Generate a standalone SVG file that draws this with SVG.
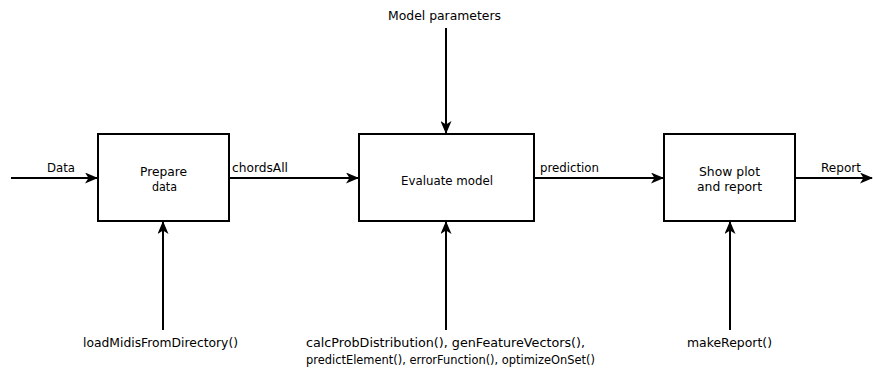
<svg xmlns="http://www.w3.org/2000/svg" width="873" height="372" viewBox="0 0 873 372">
  <style>
    .box { fill: #ffffff; stroke: #000000; stroke-width: 2; }
    .wire { fill: none; stroke: #000000; stroke-width: 2; }
    text { font-family: "DejaVu Sans", Verdana, sans-serif; font-size: 12px; fill: #000000; }
  </style>
  <defs>
    <marker id="arrow" viewBox="0 0 13 11" refX="12" refY="5.5" markerWidth="13" markerHeight="11" markerUnits="userSpaceOnUse" orient="auto">
      <path d="M0,0 L13,5.5 L0,11 L3.5,5.5 Z" fill="#000000"/>
    </marker>
  </defs>

  <rect width="873" height="372" fill="#ffffff"/>

  <!-- Connectors and their labels -->
  <g id="connectors">
    <path class="wire" d="M11,178 H97" marker-end="url(#arrow)"/>
    <path class="wire" d="M229,178 H358" marker-end="url(#arrow)"/>
    <path class="wire" d="M534,178 H663" marker-end="url(#arrow)"/>
    <path class="wire" d="M795,178 H872" marker-end="url(#arrow)"/>
    <path class="wire" d="M446,28 V133" marker-end="url(#arrow)"/>
    <path class="wire" d="M163,330 V222" marker-end="url(#arrow)"/>
    <path class="wire" d="M446,330 V222" marker-end="url(#arrow)"/>
    <path class="wire" d="M730,330 V222" marker-end="url(#arrow)"/>
    <text x="47" y="172" textLength="28" lengthAdjust="spacingAndGlyphs">Data</text>
    <text x="232" y="172" textLength="56" lengthAdjust="spacingAndGlyphs">chordsAll</text>
    <text x="540" y="172" textLength="59" lengthAdjust="spacingAndGlyphs">prediction</text>
    <text x="821" y="172" textLength="40" lengthAdjust="spacingAndGlyphs">Report</text>
    <text x="388" y="20" textLength="113" lengthAdjust="spacingAndGlyphs">Model parameters</text>
    <text x="83" y="347" textLength="155" lengthAdjust="spacingAndGlyphs">loadMidisFromDirectory()</text>
    <text x="306" y="347" textLength="279" lengthAdjust="spacingAndGlyphs">calcProbDistribution(), genFeatureVectors(),</text>
    <text x="306" y="364" textLength="289" lengthAdjust="spacingAndGlyphs">predictElement(), errorFunction(), optimizeOnSet()</text>
    <text x="687" y="347" textLength="85" lengthAdjust="spacingAndGlyphs">makeReport()</text>
  </g>

  <g id="prepare-data">
    <rect class="box" x="98" y="134" width="131" height="87"/>
    <text x="140" y="175.5" textLength="47" lengthAdjust="spacingAndGlyphs">Prepare</text>
    <text x="152" y="191" textLength="25" lengthAdjust="spacingAndGlyphs">data</text>
  </g>

  <g id="evaluate-model">
    <rect class="box" x="359" y="134" width="175" height="87"/>
    <text x="401" y="185" textLength="92" lengthAdjust="spacingAndGlyphs">Evaluate model</text>
  </g>

  <g id="show-plot-report">
    <rect class="box" x="664" y="134" width="131" height="87"/>
    <text x="699" y="175.5" textLength="61" lengthAdjust="spacingAndGlyphs">Show plot</text>
    <text x="697" y="191" textLength="65" lengthAdjust="spacingAndGlyphs">and report</text>
  </g>
</svg>
